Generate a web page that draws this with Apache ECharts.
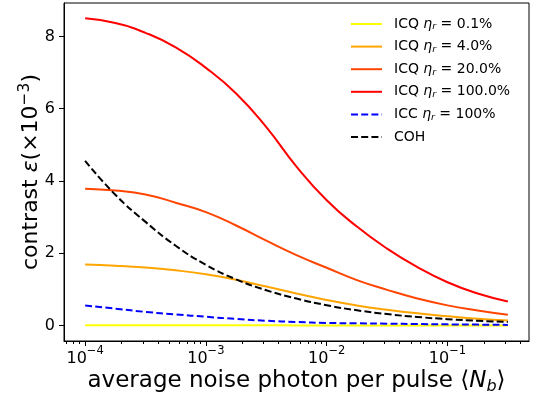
<!DOCTYPE html>
<html><head><meta charset="utf-8">
<script src="https://cdn.jsdelivr.net/npm/echarts@6/dist/echarts.min.js"></script>
<style>html,body{margin:0;padding:0;background:#fff}#c{width:537px;height:399px}</style>
</head><body><div id="c"></div>
<script>
// x values: log10 of average noise photon per pulse
const log10Nb = [-4, -3.75, -3.5, -3.25, -3, -2.75, -2.5, -2.25, -2, -1.75, -1.5, -1.25, -1, -0.75, -0.5];
const icq01  = [0.012, 0.012, 0.011, 0.011, 0.010, 0.009, 0.008, 0.007, 0.006, 0.005, 0.004, 0.003, 0.003, 0.002, 0.002];
const icq4   = [1.69, 1.66, 1.61, 1.53, 1.42, 1.27, 1.08, 0.89, 0.71, 0.56, 0.44, 0.34, 0.26, 0.19, 0.14];
const icq20  = [3.79, 3.74, 3.63, 3.40, 3.14, 2.77, 2.35, 1.95, 1.60, 1.26, 0.99, 0.75, 0.56, 0.42, 0.30];
const icq100 = [8.50, 8.37, 8.10, 7.70, 7.13, 6.42, 5.49, 4.40, 3.47, 2.74, 2.13, 1.62, 1.20, 0.89, 0.67];
const icc100 = [0.56, 0.47, 0.38, 0.31, 0.245, 0.185, 0.135, 0.10, 0.075, 0.065, 0.055, 0.045, 0.035, 0.028, 0.02];
const coh    = [4.56, 3.62, 2.87, 2.21, 1.68, 1.28, 0.98, 0.75, 0.565, 0.425, 0.32, 0.24, 0.18, 0.135, 0.10];

const xMajorTicks = [-4, -3, -2, -1];
const yTicks = [0, 2, 4, 6, 8];
const legendLabels = {
  'ICQ 0.1%':   'ICQ {it|η}{sub|r}{t| = 0.1%}',
  'ICQ 4.0%':   'ICQ {it|η}{sub|r}{t| = 4.0%}',
  'ICQ 20.0%':  'ICQ {it|η}{sub|r}{t| = 20.0%}',
  'ICQ 100.0%': 'ICQ {it|η}{sub|r}{t| = 100.0%}',
  'ICC 100%':   'ICC {it|η}{sub|r}{t| = 100%}',
  'COH':        'COH'
};

const X_MIN = -4.175, X_MAX = -0.325;
const minorTicks = [];
for (let e = -5; e <= -1; e++) {
  for (let k = 2; k <= 9; k++) {
    const v = e + Math.log10(k);
    if (v > X_MIN && v < X_MAX) minorTicks.push(v);
  }
}

const FONT = 'DejaVu Sans';
function mk(name, arr, color, dashed) {
  return {
    name: name, type: 'line', symbol: 'none', showSymbol: false,
    smooth: 0.5,
    data: log10Nb.map((x, i) => [x, arr[i]]),
    lineStyle: { color: color, width: 2, type: dashed ? [7, 3.2] : 'solid' },
    itemStyle: { color: color },
    z: 2
  };
}

const chart = echarts.init(document.getElementById('c'), null, { renderer: 'canvas' });
chart.setOption({
  animation: false,
  backgroundColor: '#fff',
  grid: { left: 64, right: 8, top: 3, bottom: 58, show: true, borderColor: '#000', borderWidth: 1, containLabel: false, outerBoundsMode: 'none' },
  legend: {
    orient: 'vertical', left: 350, top: 16, padding: 0,
    itemWidth: 31, itemHeight: 16, itemGap: 6.6,
    itemStyle: { opacity: 0 },
    data: Object.keys(legendLabels),
    formatter: n => legendLabels[n],
    textStyle: {
      fontFamily: FONT, fontSize: 14, color: '#000', lineHeight: 16, padding: [0, 0, 0, 7],
      rich: {
        it: { fontFamily: FONT, fontSize: 14, fontStyle: 'italic', color: '#000', lineHeight: 16 },
        sub: { fontFamily: FONT, fontSize: 9.5, fontStyle: 'italic', color: '#000', lineHeight: 9, verticalAlign: 'bottom' },
        t: { fontFamily: FONT, fontSize: 14, color: '#000', lineHeight: 16 }
      }
    }
  },
  xAxis: [{
    type: 'value', min: X_MIN, max: X_MAX, position: 'bottom',
    axisLine: { show: true, onZero: false, lineStyle: { color: '#000', width: 1 } },
    axisTick: { show: true, length: 5, customValues: xMajorTicks, lineStyle: { color: '#000' } },
    axisLabel: {
      customValues: xMajorTicks, margin: 4,
      formatter: v => '{b|10}{s|−' + Math.round(-v) + '}',
      rich: {
        b: { fontFamily: FONT, fontSize: 16, color: '#000', lineHeight: 22, verticalAlign: 'bottom' },
        s: { fontFamily: FONT, fontSize: 11.5, color: '#000', lineHeight: 12, verticalAlign: 'top' }
      }
    },
    splitLine: { show: false },
    name: 'average noise photon per pulse ⟨{it|N}{sub|b}⟩',
    nameLocation: 'middle', nameGap: 27, nameMoveOverlap: false,
    nameTextStyle: {
      fontFamily: FONT, fontSize: 23, color: '#000', lineHeight: 27,
      rich: {
        it: { fontFamily: FONT, fontSize: 23, fontStyle: 'italic', color: '#000', lineHeight: 27 },
        sub: { fontFamily: FONT, fontSize: 16, fontStyle: 'italic', color: '#000', lineHeight: 16, verticalAlign: 'bottom' }
      }
    }
  }, {
    type: 'value', min: X_MIN, max: X_MAX, position: 'bottom',
    axisLine: { show: false, onZero: false },
    axisTick: { show: true, length: 3, customValues: minorTicks, lineStyle: { color: '#000' } },
    axisLabel: { show: false },
    splitLine: { show: false }
  }],
  yAxis: {
    type: 'value', min: -0.425, max: 8.925,
    axisLine: { show: true, onZero: false, lineStyle: { color: '#000', width: 1 } },
    axisTick: { show: true, length: 5, customValues: yTicks, lineStyle: { color: '#000' } },
    axisLabel: { customValues: yTicks, margin: 9, fontFamily: FONT, fontSize: 16, color: '#000' },
    splitLine: { show: false },
    name: 'contrast {it|ε}(×10{sup|−3})',
    nameLocation: 'middle', nameRotate: 90, nameGap: 19, nameMoveOverlap: false,
    nameTextStyle: {
      fontFamily: FONT, fontSize: 22, color: '#000', lineHeight: 28,
      rich: {
        it: { fontFamily: FONT, fontSize: 22, fontStyle: 'italic', color: '#000', lineHeight: 28 },
        sup: { fontFamily: FONT, fontSize: 15.5, color: '#000', lineHeight: 15, verticalAlign: 'top' }
      }
    }
  },
  series: [
    mk('ICQ 0.1%', icq01, '#ffff00', false),
    mk('ICQ 4.0%', icq4, '#ffa500', false),
    mk('ICQ 20.0%', icq20, '#ff4500', false),
    mk('ICQ 100.0%', icq100, '#ff0000', false),
    mk('ICC 100%', icc100, '#0000ff', true),
    mk('COH', coh, '#000000', true)
  ]
});
</script></body></html>
